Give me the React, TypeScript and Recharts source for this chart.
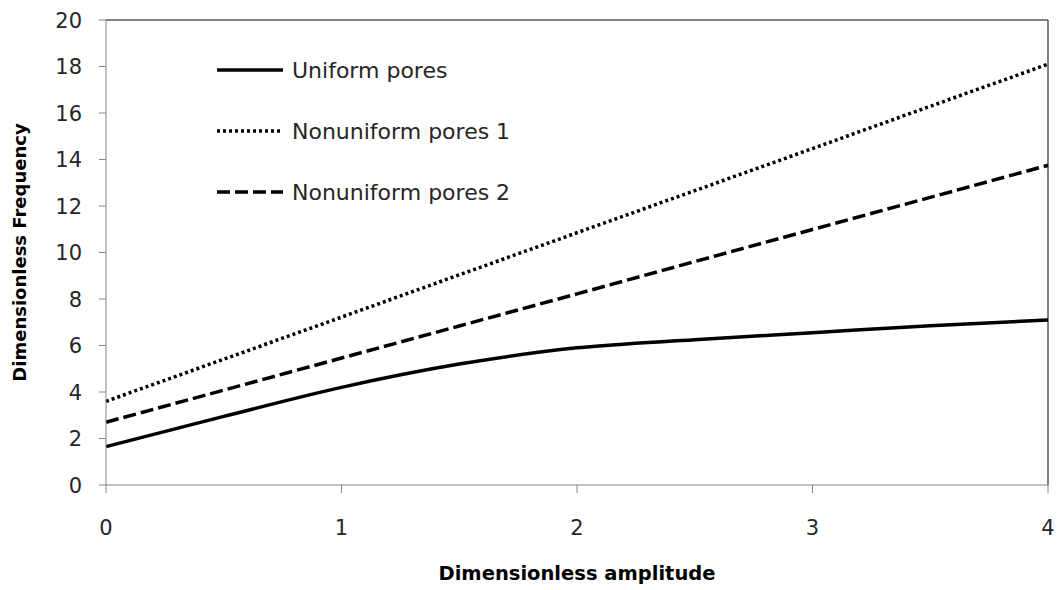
import React from 'react';
import { LineChart, Line, XAxis, YAxis, ReferenceLine, Legend } from 'recharts';

const amplitude = [0, 0.5, 1, 1.5, 2, 2.5, 3, 3.5, 4];
const uniformPores = [1.65, 2.95, 4.2, 5.2, 5.9, 6.25, 6.55, 6.85, 7.1];
const nonuniformPores1 = [3.6, 5.41, 7.22, 9.04, 10.85, 12.66, 14.47, 16.29, 18.1];
const nonuniformPores2 = [2.7, 4.08, 5.46, 6.84, 8.22, 9.61, 10.99, 12.37, 13.75];
const xTicks = [0, 1, 2, 3, 4];
const yTicks = [0, 2, 4, 6, 8, 10, 12, 14, 16, 18, 20];

const seriesInfo = [
  { key: 'uniform', name: 'Uniform pores', dash: undefined as string | undefined },
  { key: 'non1', name: 'Nonuniform pores 1', dash: '3 3' },
  { key: 'non2', name: 'Nonuniform pores 2', dash: '13 5' },
];

const data = amplitude.map((a, i) => ({
  x: a,
  uniform: uniformPores[i],
  non1: nonuniformPores1[i],
  non2: nonuniformPores2[i],
}));

const FONT = 'DejaVu Sans';
const TEXT = '#262626';

const LegendContent = () => (
  <svg width={330} height={160} style={{ overflow: 'visible', display: 'block' }}>
    {seriesInfo.map((s, i) => (
      <g key={s.key} transform={`translate(0, ${i * 61})`}>
        <line x1={0} x2={66} y1={10} y2={10} stroke="#000" strokeWidth={3.5} strokeDasharray={s.dash} />
        <text x={75} y={10} dy="0.36em" fontFamily={FONT} fontSize={22} fill={TEXT}>
          {s.name}
        </text>
      </g>
    ))}
  </svg>
);

const YTick = (props: any) => {
  const { y, payload } = props;
  return (
    <text x={82} y={y} dy="0.36em" textAnchor="end" fontFamily={FONT} fontSize={21} fill={TEXT}>
      {payload.value}
    </text>
  );
};

export default function App() {
  return (
    <div style={{ position: 'absolute', left: 0, top: 0, width: 1059, height: 590, background: '#fff' }}>
      <LineChart
        width={1059}
        height={590}
        data={data}
        margin={{ top: 20, right: 11, left: 46, bottom: 45 }}
      >
        <XAxis
          dataKey="x"
          type="number"
          domain={[0, 4]}
          ticks={xTicks}
          stroke="#868686"
          tickSize={8}
          tickMargin={27}
          height={60}
          tick={{ fill: TEXT, fontFamily: FONT, fontSize: 21 }}
          label={{
            value: 'Dimensionless amplitude',
            position: 'insideBottom',
            offset: -35,
            style: { fontFamily: FONT, fontWeight: 'bold', fontSize: 19.5, fill: '#000' },
          }}
        />
        <YAxis
          type="number"
          domain={[0, 20]}
          ticks={yTicks}
          stroke="#868686"
          tickSize={7}
          width={60}
          interval={0}
          tick={<YTick />}
          label={{
            value: 'Dimensionless Frequency',
            angle: -90,
            position: 'insideLeft',
            offset: -26,
            style: { fontFamily: FONT, fontWeight: 'bold', fontSize: 18, fill: '#000', textAnchor: 'middle' },
          }}
        />
        <ReferenceLine y={20} stroke="#595959" strokeWidth={1.5} />
        <ReferenceLine x={4} stroke="#595959" strokeWidth={1.5} />
        <Legend
          layout="horizontal"
          verticalAlign="middle"
          align="center"
          wrapperStyle={{ position: 'absolute', left: 217, top: 60, width: 330, height: 160 }}
          content={<LegendContent />}
        />
        <Line
          dataKey="uniform"
          name="Uniform pores"
          type="monotone"
          stroke="#000"
          strokeWidth={3.5}
          dot={false}
          activeDot={false}
          isAnimationActive={false}
        />
        <Line
          dataKey="non1"
          name="Nonuniform pores 1"
          type="linear"
          stroke="#000"
          strokeWidth={3.5}
          strokeDasharray="3 3"
          dot={false}
          activeDot={false}
          isAnimationActive={false}
        />
        <Line
          dataKey="non2"
          name="Nonuniform pores 2"
          type="linear"
          stroke="#000"
          strokeWidth={3.5}
          strokeDasharray="13 5"
          dot={false}
          activeDot={false}
          isAnimationActive={false}
        />
      </LineChart>
    </div>
  );
}
